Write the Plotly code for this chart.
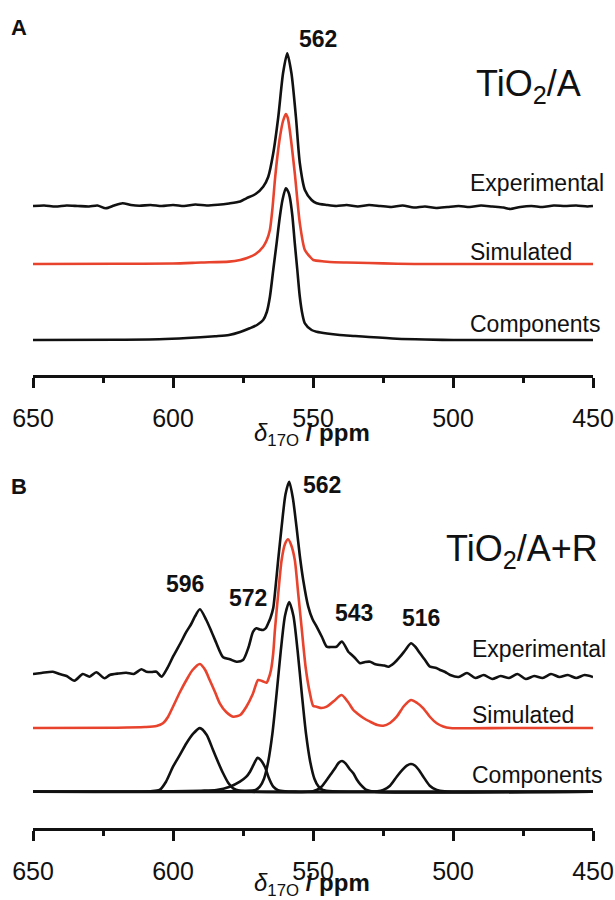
import plotly.graph_objects as go

W, H = 615, 900
ML, MR, MT, MB = 33, 22, 0, 0
FONT = "Liberation Sans, Arial, sans-serif"
BLACK = "#111111"
RED = "#e8432d"

# ---------------- Panel A : TiO2/A ----------------
a_exp_ppm = [650, 646, 642, 638, 634, 630, 627, 624, 621, 618, 615, 612, 608, 604, 600, 596, 592, 588, 584,
             580, 576, 573.8, 570.5, 567.8, 566.0, 564.2, 562.4, 560.7, 559.2, 557.7, 556.1, 554.7, 552.9,
             550.5, 548.7, 545, 541.6, 538, 534, 530, 526, 522, 518, 514, 510, 506, 502, 498, 494, 490,
             486, 482, 479.5, 476, 472, 468, 464, 460, 456, 452, 450]
a_exp_int = [0, 0.5, -0.5, 0.5, 0, -0.5, 0.5, -2.3, 0.5, 2.7, 1, 0.3, 1, 0, 1, 0, 1.5, 0.5, 1.2,
             2.5, 4.5, 7.7, 12, 19.3, 29, 52.7, 89, 132.7, 152.7, 132.7, 89, 42.7, 16,
             6, 2.7, 1, 0, 1, -0.5, 1, 0, -1, 0.5, -1.5, -0.5, -2, -1, 0, -1, 0.5,
             -0.5, -1.5, -3, -1, 0, -1, 0.5, 0, 0.5, -0.5, 0]

a_sim_ppm = [650, 620, 600, 590, 580, 576, 573.8, 570.5, 567.8, 566.5, 565.4, 564.5, 563.6, 562.7, 561.8,
             560.7, 559.7, 559.0, 558.3, 556.5, 554.7, 552.9, 551, 549.9, 546, 544, 538, 530, 520, 510, 450]
a_sim_int = [0, 0.2, 0.5, 1.5, 2.4, 4, 5.7, 10, 17.3, 24, 34, 55, 84, 108, 127,
             143, 150, 146, 134, 90.7, 40.7, 14, 7, 4, 2.5, 2, 1.5, 1, 0.3, 0, 0]

a_cmp_ppm = [650, 620, 605, 595, 585, 580, 576, 572.6, 570, 567.8, 566.5, 565.4, 564.2, 563.0, 561.9,
             560.9, 559.7, 558.8, 558.3, 557.4, 556.5, 555.6, 554.7, 553.8, 552.9, 550.5, 548.7, 545,
             540.4, 535, 530, 520, 510, 500, 450]
a_cmp_int = [0, 0.3, 0.8, 2, 3.8, 5, 8, 11.7, 15, 20, 28, 43, 70, 96.7, 122,
             140, 151.7, 148, 143, 125, 96.7, 70, 43, 26, 16.7, 10, 8.3, 6.5,
             5, 4, 3, 1.3, 0.5, 0, 0]

# ---------------- Panel B : TiO2/A+R ----------------
b_exp_ppm = [650, 647, 642.9, 640.5, 638, 635.2, 632.2, 629.8, 627.4, 624.4, 622.6, 619.5, 616.7, 614,
             611.3, 609.5, 607.5, 605.9, 604.1, 602, 600.0, 597.5, 595.2, 593.5, 592.2, 590.4, 588.1,
             586.2, 584.5, 582.1, 579.7, 577.3, 575.0, 573, 571.4, 570.2, 569.0, 567.8, 566.8, 566.0,
             565.2, 564.2, 563.6, 562.4, 561.2, 559.8, 558.5, 557.2, 555.9, 554.7, 553.5, 551.7, 550.2,
             548.7, 546.8, 545.1, 543.3, 541.6, 539.7, 537.4, 536.8, 535, 533.2, 531.4, 529.6, 528,
             526.1, 524.5, 523.1, 521, 518.9, 517, 515.0, 513.4, 511.8, 510, 508.2, 506, 504.6, 502.8,
             501.0, 498, 495, 492, 489, 486, 483, 480, 477, 474, 471, 468, 465, 462, 459, 456, 453, 450]
b_exp_int = [0, 1, 2.3, 0, -2, -6.7, 0, -2.7, 1.7, -4.3, -1, 0.5, 1.3, 0,
             4.7, 2.3, 2, 2.3, -2.7, 6, 17.3, 30, 42.3, 50, 57.3, 64.7, 54,
             42, 30.7, 16.7, 14.7, 12.3, 14, 27, 42.3, 45.7, 44.5, 44, 46, 50.7,
             56, 66, 80.7, 115, 147.3, 180, 192.3, 176, 147.3, 118, 94, 67.3, 55,
             47.3, 37, 27.3, 27, 27.3, 32.5, 22.3, 20.7, 16, 10.7, 12, 12.3, 10,
             9, 8.5, 7.3, 11, 17.3, 24, 30.7, 27, 20.7, 14, 7.3, 6, 4, 2,
             -1, -3, 1, -4, -1, -5, -2, -4, 0, -5, -2, -4, 0, -3, -1, -4, -1, -3]

b_sim_ppm = [650, 620, 610, 605.9, 603.6, 601.8, 600.0, 597.5, 595.2, 593, 590.4, 588.5, 586.9, 585,
             583.3, 581, 578.5, 576, 573.8, 571.5, 569.6, 568.2, 566.6, 565.8, 565.0, 564.2, 563.6,
             562.4, 561.2, 560.0, 558.9, 557.8, 556.5, 555.3, 554.1, 552.6, 551.1, 549.9, 548.7, 547,
             545.1, 542.5, 539.8, 537.5, 535.6, 534.4, 532, 529.6, 527, 524.9, 522.5, 520.1, 517.5,
             515.0, 512.8, 510.6, 508.2, 505.8, 503.5, 501.0, 480, 450]
b_sim_int = [0, 0.3, 1, 2, 4.7, 11, 21.3, 36, 48, 58, 64, 58, 48, 36,
             24.7, 16, 11.3, 13, 21.3, 34, 48, 47, 45.3, 50, 58, 75, 98,
             135, 168, 184, 188.7, 183, 168, 135, 101.3, 60, 34.7, 22, 21.3, 20,
             21.3, 27, 33, 26, 18, 15, 10, 6.3, 3, 2.3, 5, 11.3, 22,
             28, 25, 19.7, 11, 4.7, 1.5, 0, 0, 0]

b_c596_ppm = [650, 615, 608, 604.8, 602.5, 600, 597.5, 595.2, 592.8, 590.4, 588, 585.7, 583.8, 582.1,
              580.3, 578.5, 576, 572, 450]
b_c596_int = [0, 0, 0.5, 1.7, 10, 25, 37, 48.4, 58, 63.6, 57, 41.7, 29, 18.4,
              9, 3.4, 1, 0, 0]

b_c572_ppm = [650, 610, 600, 590, 584.5, 579.7, 576.1, 573.8, 572.5, 571.4, 570.5, 569.8, 568.8, 567.2,
              565.8, 564.2, 562.5, 560, 555, 450]
b_c572_int = [0, 0, 0.5, 1, 1.7, 5, 10, 15, 20, 26, 31, 34, 32, 25,
              14, 5, 1.5, 0.3, 0, 0]

b_c558_ppm = [650, 590, 580, 575, 570.5, 569, 567.5, 566, 564.5, 563, 561.5, 560, 558.5, 557, 555.5,
              554, 552.5, 551, 549.5, 548, 546.5, 543, 535, 450]
b_c558_int = [0, 0, 0.3, 0.8, 1.7, 5, 13, 30, 58, 98, 141, 176, 189.7, 176, 141,
              98, 58, 30, 13, 5, 1.7, 0.3, 0, 0]

b_c543_ppm = [650, 552, 550, 548.7, 547, 545.1, 543.5, 542, 540.8, 539.6, 538.3, 537, 535.6, 534.3,
              533, 531.5, 530.8, 528, 450]
b_c543_int = [0, 0, 0.5, 1.7, 5, 11.7, 18, 24, 29, 30.7, 28, 23, 18.4, 12,
              7, 3, 1.7, 0, 0]

b_c516_ppm = [650, 530, 527, 524.9, 522.5, 520.1, 518, 516.5, 515, 513.5, 512, 510.6, 508.3, 505.8,
              503, 500, 450]
b_c516_int = [0, 0, 0.3, 1.7, 6, 15, 22, 26, 27.7, 26, 21, 15, 6, 1.7,
              0.3, 0, 0]

tick_vals = [650, 600, 550, 500, 450]
tick_text = ["650", "600", "550", "500", "450"]
peak_labels_a = ["562"]
peak_labels_b = ["596", "572", "562", "543", "516"]
row_labels = ["Experimental", "Simulated", "Components"]

# vertical stacking offsets (in intensity units)
A_OFF = {"exp": 134, "sim": 76, "cmp": 0}
B_OFF = {"exp": 117.7, "sim": 63.7, "cmp": 0}


def px2paper(xp, yp):
    return (xp - ML) / (W - ML - MR), 1 - (yp - MT) / (H - MT - MB)


fig = go.Figure()


def add_line(x, y, off, color, xa, ya):
    fig.add_trace(go.Scatter(
        x=x, y=[v + off for v in y], mode="lines",
        line=dict(color=color, width=2.6, shape="spline", smoothing=0.7),
        xaxis=xa, yaxis=ya, hoverinfo="skip", showlegend=False))


add_line(a_exp_ppm, a_exp_int, A_OFF["exp"], BLACK, "x", "y")
add_line(a_sim_ppm, a_sim_int, A_OFF["sim"], RED, "x", "y")
add_line(a_cmp_ppm, a_cmp_int, A_OFF["cmp"], BLACK, "x", "y")

add_line(b_exp_ppm, b_exp_int, B_OFF["exp"], BLACK, "x2", "y2")
add_line(b_sim_ppm, b_sim_int, B_OFF["sim"], RED, "x2", "y2")
for xs, ys in [(b_c596_ppm, b_c596_int), (b_c572_ppm, b_c572_int), (b_c558_ppm, b_c558_int),
               (b_c543_ppm, b_c543_int), (b_c516_ppm, b_c516_int)]:
    add_line(xs, ys, B_OFF["cmp"], BLACK, "x2", "y2")

xax = dict(range=[650, 450], autorange=False, showgrid=False, zeroline=False,
           showline=True, linecolor=BLACK, linewidth=3,
           ticks="outside", ticklen=10, tickwidth=2.5, tickcolor=BLACK,
           tickvals=tick_vals, ticktext=tick_text, ticklabelstandoff=9,
           tickfont=dict(family=FONT, size=25, color=BLACK),
           minor=dict(tickvals=[625, 575, 525, 475], ticks="outside", ticklen=5,
                      tickwidth=2.5, tickcolor=BLACK))
yax = dict(visible=False, showgrid=False, zeroline=False)

dA = [1 - 375 / H, 1 - 15 / H]
dB = [1 - 828.3 / H, 1 - 465 / H]

fig.update_layout(
    width=W, height=H, paper_bgcolor="white", plot_bgcolor="white",
    margin=dict(l=ML, r=MR, t=MT, b=MB),
    xaxis=dict(xax, anchor="y"),
    yaxis=dict(yax, domain=dA, range=[-35, -35 + 360]),
    xaxis2=dict(xax, anchor="y2"),
    yaxis2=dict(yax, domain=dB, range=[-36.6, -36.6 + (828.3 - 465)]),
)

anns = []


def ann(text, xp, yp, size, xanchor="center", color=BLACK):
    px, py = px2paper(xp, yp)
    anns.append(dict(text=text, x=px, y=py, xref="paper", yref="paper", showarrow=False,
                     xanchor=xanchor, yanchor="middle",
                     font=dict(family=FONT, size=size, color=color)))


ann("<b>A</b>", 19, 28, 22)
ann("<b>B</b>", 19, 486, 22)
ann("TiO<sub>2</sub>/A", 528, 86, 36)
ann("TiO<sub>2</sub>/A+R", 522, 551, 36)
ann("<b>%s</b>" % peak_labels_a[0], 318, 39, 23)
for lab, xp, yp in zip(peak_labels_b, [185, 248, 321.7, 354, 421], [583.5, 598, 485.5, 613, 617.5]):
    ann("<b>%s</b>" % lab, xp, yp, 23)
for lab, yp in zip(row_labels, [183, 251.7, 324]):
    ann(lab, 468, yp, 23, xanchor="left")
for lab, yp in zip(row_labels, [649, 715, 775]):
    ann(lab, 470, yp, 23, xanchor="left")
title = "<i>δ</i><sub>17O</sub><b> / ppm</b>"
ann(title, 312, 434, 24)
ann(title, 312, 884, 24)

fig.update_layout(annotations=anns)
fig.write_html("out.html", config={"displayModeBar": False},
               post_script="document.body.style.margin='0';document.body.style.padding='0';")
